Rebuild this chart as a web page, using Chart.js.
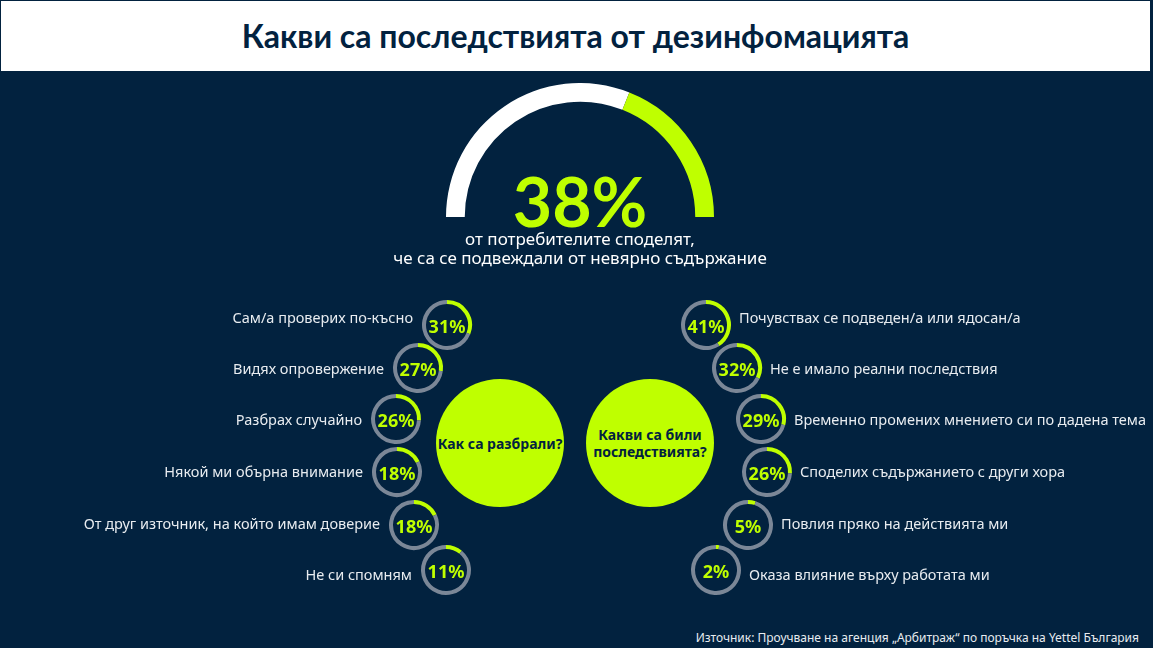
<!DOCTYPE html>
<html><head><meta charset="utf-8">
<script src="https://cdn.jsdelivr.net/npm/chart.js@4"></script>
<style>
body{margin:0;width:1153px;height:648px;background:#02223f;font-family:"Noto Sans",sans-serif;position:relative;overflow:hidden}
#title{position:absolute;left:0;top:0;width:1151px;height:72px;background:#fff;border:1px solid #02223f;box-sizing:border-box;text-align:center;font:bold 32px Lato,"Noto Sans",sans-serif;color:#02223f;line-height:70px}
.c{position:absolute}
.t{position:absolute;color:#e8ecf0;font-size:14.5px;white-space:nowrap;transform:translateY(-50%)}
.pct{position:absolute;color:#bfff00;font-weight:bold;font-size:18px;transform:translate(-50%,-50%)}
.big{position:absolute;border-radius:50%;background:#bfff00;color:#02223f;font-weight:bold;font-size:14px;display:flex;align-items:center;justify-content:center;text-align:center;line-height:17px}
</style></head><body>
<div id="title">Какви са последствията от дезинфомацията</div>
<canvas id="gauge" class="c" style="left:446px;top:83px;width:268px;height:134px" width="268" height="134"></canvas>
<div style="position:absolute;left:0;width:1160px;top:160px;height:70px;line-height:70px;text-align:center;color:#bfff00;font:bold 68px Lato,'Noto Sans',sans-serif">38%</div>
<div style="position:absolute;left:0;width:1160px;top:229px;text-align:center;color:#fff;font-size:17px;line-height:19px">от потребителите споделят,<br>че са се подвеждали от невярно съдържание</div>
<div class="big" style="left:436px;top:379px;width:128px;height:128px">Как са разбрали?</div>
<div class="big" style="left:586px;top:379px;width:128px;height:128px">Какви са били<br>последствията?</div>
<div id="marks"></div>
<div style="position:absolute;right:14px;top:629px;color:#e8ecf0;font-size:12px">Източник: Проучване на агенция „Арбитраж“ по поръчка на Yettel България</div>
<script>
const gaugeValue = 38;

const leftLabels = ['Сам/а проверих по-късно', 'Видях опровержение', 'Разбрах случайно', 'Някой ми обърна внимание', 'От друг източник, на който имам доверие', 'Не си спомням'];
const leftValues = [31, 27, 26, 18, 18, 11];
const rightLabels = ['Почувствах се подведен/а или ядосан/а', 'Не е имало реални последствия', 'Временно промених мнението си по дадена тема', 'Споделих съдържанието с други хора', 'Повлия пряко на действията ми', 'Оказа влияние върху работата ми'];
const rightValues = [41, 32, 29, 26, 5, 2];

const LIME = '#bfff00';
const GREY = '#7b8797';

new Chart(document.getElementById('gauge'), {
    type: 'doughnut',
    data: { datasets: [{ data: [100 - gaugeValue, gaugeValue], backgroundColor: ['#ffffff', LIME], borderWidth: 0 }] },
    options: {
        responsive: false, animation: false, rotation: -90, circumference: 180, cutout: '86%',
        layout: { padding: 0 },
        plugins: { legend: { display: false }, tooltip: { enabled: false } }
    }
});

// centres of the small rings, and label heights
const leftPos = [[447, 325], [418, 368], [396, 419], [397, 472], [414, 525], [446, 570]];
const rightPos = [[706, 325], [737, 368], [761, 419], [767, 472], [748, 525], [716, 570]];
const labelY = [317, 368, 419, 471, 523, 574];

function ring(x, y, ly, value, label, side) {
    const marks = document.getElementById('marks');
    const cv = document.createElement('canvas');
    cv.className = 'c';
    cv.width = 54; cv.height = 54;
    cv.style.left = (x - 27) + 'px';
    cv.style.top = (y - 27) + 'px';
    marks.appendChild(cv);
    new Chart(cv, {
        type: 'doughnut',
        data: { datasets: [{ data: [value, 100 - value], backgroundColor: [LIME, GREY], borderWidth: 0 }] },
        options: {
            responsive: false, animation: false, cutout: '84%',
            layout: { padding: 2 },
            plugins: { legend: { display: false }, tooltip: { enabled: false } }
        }
    });
    const p = document.createElement('div');
    p.className = 'pct';
    p.style.left = x + 'px'; p.style.top = (y + 1) + 'px';
    p.textContent = value + '%';
    marks.appendChild(p);
    const t = document.createElement('div');
    t.className = 't';
    t.textContent = label;
    t.style.top = ly + 'px';
    if (side === 'left') t.style.right = (1153 - (x - 34)) + 'px';
    else t.style.left = (x + 33) + 'px';
    marks.appendChild(t);
}

leftValues.forEach((v, i) => ring(leftPos[i][0], leftPos[i][1], labelY[i], v, leftLabels[i], 'left'));
rightValues.forEach((v, i) => ring(rightPos[i][0], rightPos[i][1], labelY[i], v, rightLabels[i], 'right'));
</script>
</body></html>
